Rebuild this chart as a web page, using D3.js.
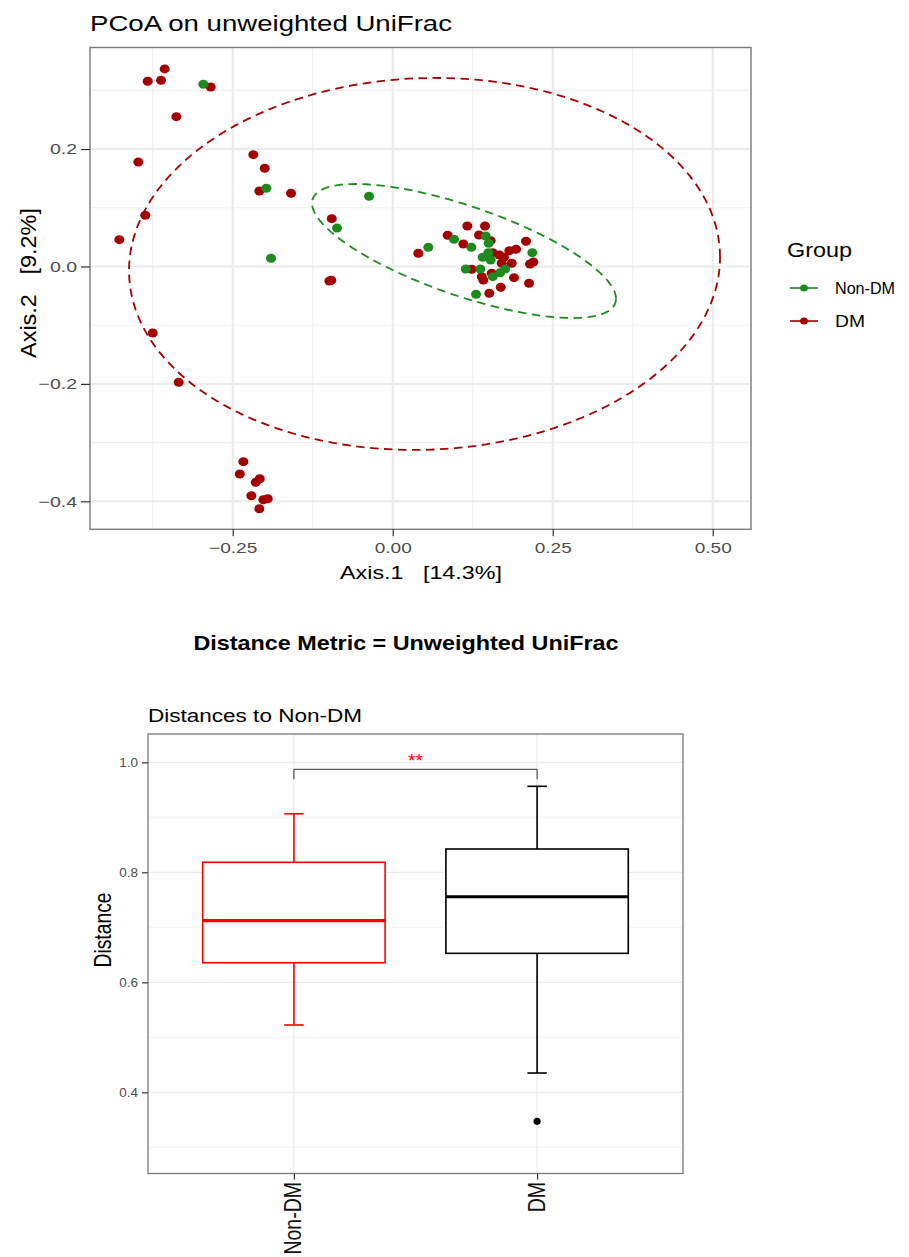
<!DOCTYPE html>
<html>
<head>
<meta charset="utf-8">
<script src="https://cdn.jsdelivr.net/npm/d3@7"></script>
<style>
  body { margin: 0; background: #fff; }
  text { font-family: "Liberation Sans", Arial, Helvetica, sans-serif; }
</style>
</head>
<body>
<svg id="chart" width="909" height="1257"></svg>
<script>
// ---------- PCoA data (Axis.1, Axis.2)
const groups = ['Non-DM', 'DM'];
const groupColors = ['#1E8A1E', '#A50000'];

const nonDmAxis1 = [-0.2959, -0.1975, -0.037, -0.087, -0.1902, 0.0556, 0.0958, 0.1228, 0.1453, 0.15,
  0.1494, 0.1406, 0.1531, 0.2181, 0.1141, 0.1369, 0.1755, 0.1677, 0.1563, 0.1302];
const nonDmAxis2 = [0.3104, 0.1332, 0.1196, 0.0656, 0.014, 0.0327, 0.0463, 0.0327, 0.052, 0.0395,
  0.0235, 0.0157, 0.0111, 0.0235, -0.0043, -0.0043, -0.0043, -0.0106, -0.0174, -0.0474];

const dmAxis1 = [-0.3563, -0.3828, -0.362, -0.2844, -0.3381, -0.3975, -0.2178, -0.2, -0.2084, -0.1589,
  -0.3866, -0.4272, -0.0953, -0.099, -0.096, -0.375, -0.3344, -0.2334, -0.239, -0.2078,
  -0.214, -0.2209, -0.2022, -0.1953, -0.2084, 0.04, 0.0859, 0.1103, 0.1166, 0.1442,
  0.1348, 0.1531, 0.1563, 0.1666, 0.1739, 0.1703, 0.1859, 0.1822, 0.1927, 0.2083,
  0.2145, 0.2197, 0.1234, 0.1391, 0.1416, 0.1547, 0.1895, 0.1688, 0.213, 0.1509];
const dmAxis2 = [0.3365, 0.3155, 0.3172, 0.3058, 0.2552, 0.178, 0.1905, 0.1673, 0.1286, 0.1247,
  0.0872, 0.0457, 0.0814, -0.0247, -0.0235, -0.1133, -0.1973, -0.3325, -0.3535, -0.3615,
  -0.3676, -0.3905, -0.3973, -0.3956, -0.4126, 0.0225, 0.0532, 0.0383, 0.069, 0.069,
  0.0537, 0.044, 0.0235, 0.0196, 0.0157, 0.0055, 0.0055, 0.0269, 0.0293, 0.0429,
  0.0043, 0.0077, -0.0048, -0.0174, -0.023, -0.0116, -0.0191, -0.0354, -0.0286, -0.0457];

// 95% ellipses: centre and spread matrix per group (Non-DM, DM)
const ellipseCenterX = [0.1114, 0.0497];
const ellipseCenterY = [0.0264, 0.0043];
const ellipseVarX = [0.0564, 0.2132];
const ellipseVarY = [0.01303, 0.1004];
const ellipseCov = [-0.01932, 0.00532];

const pcoaXTicks = [-0.25, 0, 0.25, 0.5];
const pcoaXLabels = ['\u22120.25', '0.00', '0.25', '0.50'];
const pcoaXMinor = [-0.375, -0.125, 0.125, 0.375];
const pcoaYTicks = [-0.4, -0.2, 0, 0.2];
const pcoaYLabels = ['\u22120.4', '\u22120.2', '0.0', '0.2'];
const pcoaYMinor = [-0.3, -0.1, 0.1, 0.3];

// ---------- distance boxplot data
const boxGroups = ['Non-DM', 'DM'];
const boxColors = ['#FF0000', '#000000'];
const boxLower = [0.5224, 0.4351];
const boxQ1 = [0.6356, 0.6527];
const boxMedian = [0.712, 0.7556];
const boxQ3 = [0.8182, 0.8424];
const boxUpper = [0.9065, 0.9564];
const dmOutliers = [0.3473];
const sigLabel = '**';
const sigBarY = 0.9873;
const sigTipY = 0.9691;
const boxYTicks = [0.4, 0.6, 0.8, 1.0];
const boxYMinor = [0.3, 0.5, 0.7, 0.9];

const svg = d3.select('#chart');
svg.append('rect').attr('width', 909).attr('height', 1257).attr('fill', '#fff');

function styleAxis(g, size) {
  g.attr('font-family', null).attr('font-size', null);
  g.select('.domain').remove();
  g.selectAll('line').attr('stroke', '#333').attr('stroke-width', 1.2);
  g.selectAll('text').attr('font-size', size).attr('fill', '#4d4d4d');
}

function stretch(sel, k) {
  sel.each(function () {
    const w = this.getComputedTextLength();
    d3.select(this).attr('textLength', w * k).attr('lengthAdjust', 'spacingAndGlyphs');
  });
}

// ================= PCoA panel =================
const x1 = d3.scaleLinear().domain([-0.473, 0.5598]).range([90, 751]);
const y1 = d3.scaleLinear().domain([-0.4477, 0.373]).range([529.3, 47.5]);
const pcoa = svg.append('g');

pcoa.selectAll('line.vminor').data(pcoaXMinor).join('line')
  .attr('x1', (d) => x1(d)).attr('x2', (d) => x1(d))
  .attr('y1', y1.range()[1]).attr('y2', y1.range()[0])
  .attr('stroke', '#f0f0f0').attr('stroke-width', 1.1);
pcoa.selectAll('line.hminor').data(pcoaYMinor).join('line')
  .attr('y1', (d) => y1(d)).attr('y2', (d) => y1(d))
  .attr('x1', x1.range()[0]).attr('x2', x1.range()[1])
  .attr('stroke', '#f0f0f0').attr('stroke-width', 1.1);
pcoa.selectAll('line.vmajor').data(pcoaXTicks).join('line')
  .attr('x1', (d) => x1(d)).attr('x2', (d) => x1(d))
  .attr('y1', y1.range()[1]).attr('y2', y1.range()[0])
  .attr('stroke', '#ebebeb').attr('stroke-width', 2);
pcoa.selectAll('line.hmajor').data(pcoaYTicks).join('line')
  .attr('y1', (d) => y1(d)).attr('y2', (d) => y1(d))
  .attr('x1', x1.range()[0]).attr('x2', x1.range()[1])
  .attr('stroke', '#ebebeb').attr('stroke-width', 2);

// ellipses
function ellipsePoints(i) {
  const a = Math.sqrt(ellipseVarX[i]);
  const b = ellipseCov[i] / a;
  const c = Math.sqrt(ellipseVarY[i] - b * b);
  return d3.range(0, 361, 2).map((deg) => {
    const t = deg * Math.PI / 180;
    return [ellipseCenterX[i] + a * Math.cos(t), ellipseCenterY[i] + b * Math.cos(t) + c * Math.sin(t)];
  });
}
const ellipseLine = d3.line().x((d) => x1(d[0])).y((d) => y1(d[1]));
pcoa.selectAll('path.ellipse').data([0, 1]).join('path')
  .attr('d', (i) => ellipseLine(ellipsePoints(i)))
  .attr('fill', 'none')
  .attr('stroke', (i) => groupColors[i])
  .attr('stroke-width', 1.8)
  .attr('stroke-dasharray', '8.5,5.5');

// points (DM below, Non-DM on top)
const dmPts = dmAxis1.map((v, i) => ({ x: v, y: dmAxis2[i] }));
const nonDmPts = nonDmAxis1.map((v, i) => ({ x: v, y: nonDmAxis2[i] }));
pcoa.selectAll('ellipse.dm').data(dmPts).join('ellipse')
  .attr('cx', (d) => x1(d.x)).attr('cy', (d) => y1(d.y))
  .attr('rx', 5).attr('ry', 4.5).attr('fill', groupColors[1]);
pcoa.selectAll('ellipse.nondm').data(nonDmPts).join('ellipse')
  .attr('cx', (d) => x1(d.x)).attr('cy', (d) => y1(d.y))
  .attr('rx', 5).attr('ry', 4.5).attr('fill', groupColors[0]);

pcoa.append('rect')
  .attr('x', x1.range()[0]).attr('y', y1.range()[1])
  .attr('width', x1.range()[1] - x1.range()[0]).attr('height', y1.range()[0] - y1.range()[1])
  .attr('fill', 'none').attr('stroke', '#7a7a7a').attr('stroke-width', 1.4);

const xAx1 = pcoa.append('g').attr('transform', `translate(0,${y1.range()[0]})`)
  .call(d3.axisBottom(x1).tickValues(pcoaXTicks).tickFormat((d, i) => pcoaXLabels[i]).tickSize(7).tickPadding(6));
styleAxis(xAx1, 15);
stretch(xAx1.selectAll('text'), 1.27);

const yAx1 = pcoa.append('g').attr('transform', `translate(${x1.range()[0]},0)`)
  .call(d3.axisLeft(y1).tickValues(pcoaYTicks).tickFormat((d, i) => pcoaYLabels[i]).tickSize(9).tickPadding(4));
styleAxis(yAx1, 15);
stretch(yAx1.selectAll('text'), 1.3);

pcoa.append('text').attr('x', 90).attr('y', 31).attr('font-size', 22)
  .attr('textLength', 362).attr('lengthAdjust', 'spacingAndGlyphs')
  .text('PCoA on unweighted UniFrac');
pcoa.append('text').attr('x', 421).attr('y', 579).attr('font-size', 18.5)
  .attr('text-anchor', 'middle').attr('textLength', 162).attr('lengthAdjust', 'spacingAndGlyphs')
  .attr('xml:space', 'preserve').text('Axis.1   [14.3%]');
pcoa.append('text').attr('transform', 'translate(36,283) rotate(-90) scale(1,1.22)')
  .attr('font-size', 18).attr('text-anchor', 'middle')
  .attr('textLength', 150).attr('lengthAdjust', 'spacingAndGlyphs')
  .attr('xml:space', 'preserve').text('Axis.2   [9.2%]');

// legend
const legend = svg.append('g');
legend.append('text').attr('x', 787).attr('y', 257).attr('font-size', 19.5)
  .attr('textLength', 65).attr('lengthAdjust', 'spacingAndGlyphs').text('Group');
const legendY = [288, 321];
const legendW = [60, 30];
const item = legend.selectAll('g.item').data(groups).join('g')
  .attr('transform', (d, i) => `translate(0,${legendY[i]})`);
item.append('line').attr('x1', 790).attr('x2', 818).attr('stroke', (d, i) => groupColors[i]).attr('stroke-width', 1.6);
item.append('ellipse').attr('cx', 804).attr('rx', 3.9).attr('ry', 3.5).attr('fill', (d, i) => groupColors[i]);
item.append('text').attr('x', 835).attr('y', 6).attr('font-size', 16.5)
  .attr('textLength', (d, i) => legendW[i]).attr('lengthAdjust', 'spacingAndGlyphs')
  .text((d) => d);

// ================= middle caption =================
svg.append('text').attr('x', 406).attr('y', 650).attr('font-size', 20.5).attr('font-weight', 'bold')
  .attr('text-anchor', 'middle').attr('textLength', 425).attr('lengthAdjust', 'spacingAndGlyphs')
  .text('Distance Metric = Unweighted UniFrac');

// ================= boxplot panel =================
const xb = d3.scaleLinear().domain([0.4, 2.6]).range([148, 683]);
const yb = d3.scaleLinear().domain([0.2524, 1.0515]).range([1173.5, 734]);
const bw = 0.75 / 2; // half box width in category units
const capW = 0.04;
const box = svg.append('g');

box.selectAll('line.hminor').data(boxYMinor).join('line')
  .attr('y1', (d) => yb(d)).attr('y2', (d) => yb(d))
  .attr('x1', xb.range()[0]).attr('x2', xb.range()[1])
  .attr('stroke', '#f2f2f2').attr('stroke-width', 0.9);
box.selectAll('line.hmajor').data(boxYTicks).join('line')
  .attr('y1', (d) => yb(d)).attr('y2', (d) => yb(d))
  .attr('x1', xb.range()[0]).attr('x2', xb.range()[1])
  .attr('stroke', '#ebebeb').attr('stroke-width', 1.3);
box.selectAll('line.vmajor').data(boxGroups).join('line')
  .attr('x1', (d, i) => xb(i + 1)).attr('x2', (d, i) => xb(i + 1))
  .attr('y1', yb.range()[1]).attr('y2', yb.range()[0])
  .attr('stroke', '#ebebeb').attr('stroke-width', 1.3);

const bx = box.selectAll('g.box').data(boxGroups).join('g');
bx.append('line')
  .attr('x1', (d, i) => xb(i + 1)).attr('x2', (d, i) => xb(i + 1))
  .attr('y1', (d, i) => yb(boxUpper[i])).attr('y2', (d, i) => yb(boxQ3[i]))
  .attr('stroke', (d, i) => boxColors[i]).attr('stroke-width', 1.6);
bx.append('line')
  .attr('x1', (d, i) => xb(i + 1)).attr('x2', (d, i) => xb(i + 1))
  .attr('y1', (d, i) => yb(boxQ1[i])).attr('y2', (d, i) => yb(boxLower[i]))
  .attr('stroke', (d, i) => boxColors[i]).attr('stroke-width', 1.6);
bx.append('line')
  .attr('x1', (d, i) => xb(i + 1 - capW)).attr('x2', (d, i) => xb(i + 1 + capW))
  .attr('y1', (d, i) => yb(boxUpper[i])).attr('y2', (d, i) => yb(boxUpper[i]))
  .attr('stroke', (d, i) => boxColors[i]).attr('stroke-width', 1.6);
bx.append('line')
  .attr('x1', (d, i) => xb(i + 1 - capW)).attr('x2', (d, i) => xb(i + 1 + capW))
  .attr('y1', (d, i) => yb(boxLower[i])).attr('y2', (d, i) => yb(boxLower[i]))
  .attr('stroke', (d, i) => boxColors[i]).attr('stroke-width', 1.6);
bx.append('rect')
  .attr('x', (d, i) => xb(i + 1 - bw)).attr('width', (d, i) => xb(i + 1 + bw) - xb(i + 1 - bw))
  .attr('y', (d, i) => yb(boxQ3[i])).attr('height', (d, i) => yb(boxQ1[i]) - yb(boxQ3[i]))
  .attr('fill', '#fff').attr('stroke', (d, i) => boxColors[i]).attr('stroke-width', 1.6);
bx.append('line')
  .attr('x1', (d, i) => xb(i + 1 - bw)).attr('x2', (d, i) => xb(i + 1 + bw))
  .attr('y1', (d, i) => yb(boxMedian[i])).attr('y2', (d, i) => yb(boxMedian[i]))
  .attr('stroke', (d, i) => boxColors[i]).attr('stroke-width', 3.2);

box.selectAll('circle.out').data(dmOutliers).join('circle')
  .attr('cx', xb(2)).attr('cy', (d) => yb(d)).attr('r', 3.6).attr('fill', boxColors[1]);

// significance bracket
box.append('path')
  .attr('d', `M${xb(1)},${yb(sigTipY)}V${yb(sigBarY)}H${xb(2)}V${yb(sigTipY)}`)
  .attr('fill', 'none').attr('stroke', '#333').attr('stroke-width', 1);
box.append('text').attr('x', (xb(1) + xb(2)) / 2).attr('y', yb(sigBarY) - 2)
  .attr('text-anchor', 'middle').attr('font-size', 19).attr('fill', '#FF0000')
  .text(sigLabel);

box.append('rect')
  .attr('x', xb.range()[0]).attr('y', yb.range()[1])
  .attr('width', xb.range()[1] - xb.range()[0]).attr('height', yb.range()[0] - yb.range()[1])
  .attr('fill', 'none').attr('stroke', '#7a7a7a').attr('stroke-width', 1.3);

const yAxB = box.append('g').attr('transform', `translate(${xb.range()[0]},0)`)
  .call(d3.axisLeft(yb).tickValues(boxYTicks).tickFormat(d3.format('.1f')).tickSize(6).tickPadding(4));
styleAxis(yAxB, 12);
stretch(yAxB.selectAll('text'), 1.12);

const xAxB = box.append('g').attr('transform', `translate(0,${yb.range()[0]})`)
  .call(d3.axisBottom(xb).tickValues([1, 2]).tickFormat((d) => boxGroups[d - 1]).tickSize(6));
styleAxis(xAxB, 19.5);
xAxB.selectAll('text')
  .attr('fill', '#111')
  .attr('text-anchor', 'end')
  .attr('x', 0).attr('y', 0).attr('dy', null)
  .attr('transform', 'translate(7,8.5) rotate(-90) scale(1,1.25)');

box.append('text').attr('x', 148).attr('y', 722).attr('font-size', 17.5)
  .attr('textLength', 214).attr('lengthAdjust', 'spacingAndGlyphs')
  .text('Distances to Non-DM');
box.append('text').attr('transform', 'translate(111,930) rotate(-90) scale(1,1.27)')
  .attr('font-size', 19).attr('text-anchor', 'middle')
  .attr('textLength', 75).attr('lengthAdjust', 'spacingAndGlyphs')
  .text('Distance');
</script>
</body>
</html>
